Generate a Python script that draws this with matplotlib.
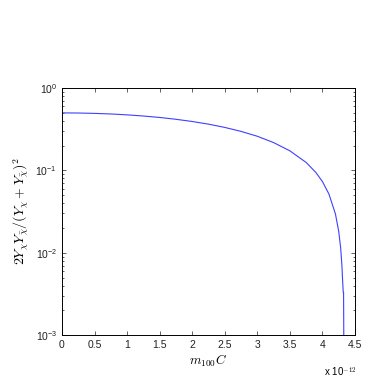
import numpy as np
import matplotlib
matplotlib.use('Agg')
import matplotlib.pyplot as plt

# values (x in units of 1e-12)
m100C = [0, 0.25, 0.5, 0.75, 1.0, 1.25, 1.5, 1.75, 2.0, 2.25, 2.5, 2.75, 3.0,
         3.25, 3.5, 3.75, 3.9, 4.0, 4.1, 4.2, 4.25, 4.28, 4.3, 4.31, 4.32,
         4.325, 4.33]
ratio = [0.5, 0.498, 0.493, 0.485, 0.473, 0.458, 0.44, 0.418, 0.393, 0.365,
         0.333, 0.298, 0.26, 0.218, 0.173, 0.125, 0.0944, 0.0733, 0.0517,
         0.0296, 0.0183, 0.0115, 0.0069, 0.0046, 0.0033, 0.0033, 0.0005]

xticks = [0, 0.5, 1, 1.5, 2, 2.5, 3, 3.5, 4, 4.5]
xticklabels = ['0', '0.5', '1', '1.5', '2', '2.5', '3', '3.5', '4', '4.5']

plt.rcParams['font.family'] = ['Liberation Sans', 'DejaVu Sans']
plt.rcParams['mathtext.fontset'] = 'cm'

fig = plt.figure(figsize=(3.85, 3.83), dpi=100)
ax = fig.add_axes([0.161, 0.125, 0.761, 0.645])

x = np.array(m100C) * 1e-12
ax.plot(x, ratio, color='#3f3fff', lw=0.8)

ax.set_yscale('log')
ax.set_ylim(1e-3, 1)
ax.set_xlim(0, 4.5e-12)
ax.set_xticks(np.array(xticks) * 1e-12)
ax.set_xticklabels(xticklabels)

ax.tick_params(which='both', direction='in', top=True, right=True,
               labelsize=7.5, colors='#222222')
ax.tick_params(which='major', length=3, width=0.5)
ax.tick_params(which='minor', length=1.5, width=0.5)
for s in ax.spines.values():
    s.set_linewidth(0.7)

ax.set_xlabel(r'$m_{100}C$', fontsize=9.5, labelpad=2)
ax.set_ylabel(r'$2Y_\chi Y_{\bar\chi}/(Y_\chi+Y_{\bar\chi})^2$', fontsize=10, labelpad=3)
ax.text(1.005, -0.125, r'x 10$^{-12}$', transform=ax.transAxes, ha='right',
        va='top', fontsize=7)

fig.savefig('out.png', dpi=100)
